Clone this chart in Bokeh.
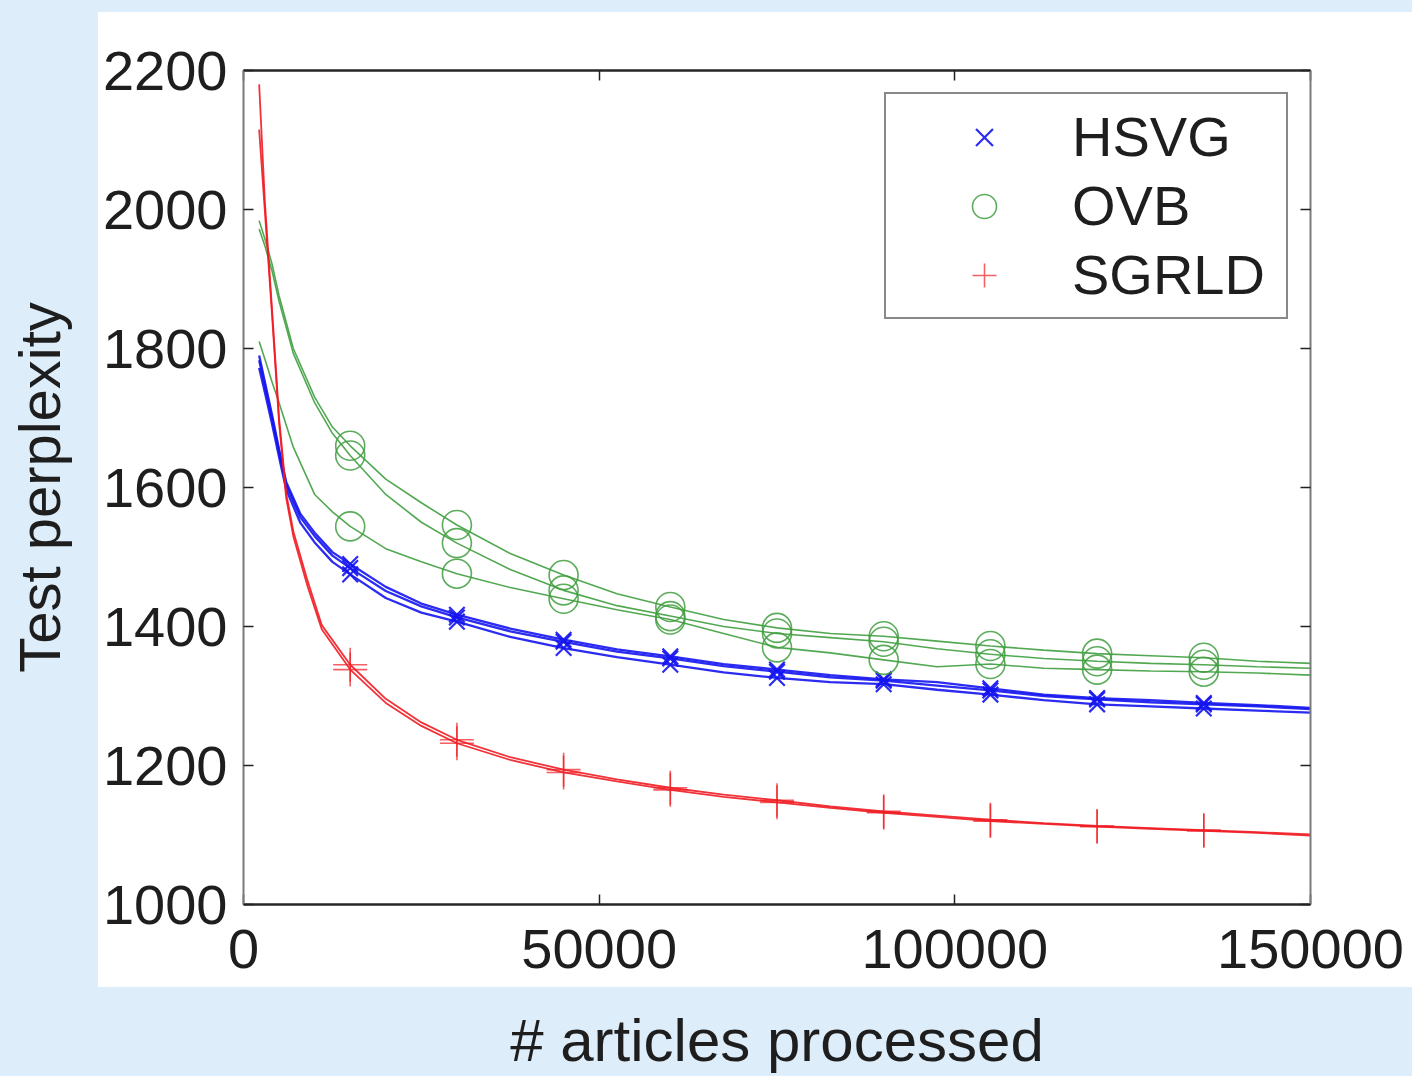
import re
from bokeh.plotting import figure
from bokeh.models import (Range1d, FixedTicker, LinearAxis, BasicTickFormatter,
                          CustomJSTickFormatter, Legend, LegendItem, ColumnDataSource)
from bokeh.embed import file_html
from bokeh.resources import INLINE

# ---------------- data ----------------
X_TICKS = [0, 50000, 100000, 150000]
Y_TICKS = [1000, 1200, 1400, 1600, 1800, 2000, 2200]
MARKER_X = [15000, 30000, 45000, 60000, 75000, 90000, 105000, 120000, 135000]

X_HSVG = [2200, 3000, 4000, 5000, 6000, 8000, 10000, 12500, 15000, 20000, 25000, 30000,
          37500, 45000, 52500, 60000, 67500, 75000, 82500, 90000, 97500, 105000, 112500,
          120000, 127500, 135000, 142500, 150000]
HSVG_1 = [1790, 1752, 1705, 1655, 1608, 1562, 1535, 1507, 1490, 1457, 1433, 1417, 1397, 1381,
          1367, 1357, 1346, 1338, 1330, 1324, 1320, 1311, 1302, 1297, 1294, 1290, 1287, 1283]
HSVG_2 = [1783, 1746, 1700, 1651, 1604, 1557, 1530, 1502, 1484, 1451, 1429, 1413, 1393, 1378,
          1364, 1354, 1343, 1335, 1327, 1322, 1315, 1308, 1300, 1295, 1291, 1288, 1285, 1281]
HSVG_3 = [1772, 1737, 1692, 1644, 1597, 1549, 1521, 1493, 1475, 1441, 1420, 1407, 1385, 1369,
          1356, 1345, 1334, 1326, 1320, 1317, 1309, 1302, 1294, 1288, 1285, 1282, 1279, 1276]

X_OVB = [2200, 3000, 4000, 5000, 7000, 10000, 12500, 15000, 20000, 25000, 30000, 37500,
         45000, 52500, 60000, 67500, 75000, 82500, 90000, 97500, 105000, 112500, 120000,
         127500, 135000, 142500, 150000]
OVB_1 = [1984, 1958, 1922, 1876, 1800, 1730, 1687, 1660, 1612, 1578, 1546, 1505, 1474, 1447,
         1428, 1410, 1398, 1390, 1386, 1379, 1372, 1366, 1361, 1358, 1355, 1350, 1347]
OVB_2 = [1972, 1948, 1912, 1868, 1793, 1722, 1678, 1646, 1590, 1550, 1520, 1482, 1452, 1430,
         1415, 1400, 1390, 1384, 1378, 1368, 1360, 1354, 1350, 1347, 1345, 1342, 1340]
OVB_3 = [1810, 1785, 1752, 1722, 1658, 1590, 1565, 1544, 1512, 1493, 1476, 1456, 1440, 1424,
         1410, 1390, 1370, 1362, 1352, 1342, 1346, 1340, 1338, 1336, 1335, 1333, 1330]

X_SGRLD = [2200, 3000, 4000, 4500, 5000, 6000, 7000, 9000, 11000, 15000, 20000, 25000, 30000,
           37500, 45000, 52500, 60000, 67500, 75000, 82500, 90000, 97500, 105000, 112500,
           120000, 127500, 135000, 142500, 150000]
SGRLD_1 = [2180, 2012, 1858, 1780, 1700, 1592, 1537, 1466, 1402, 1345, 1296, 1262, 1237, 1212,
           1194, 1180, 1168, 1158, 1150, 1141, 1134, 1128, 1122, 1117, 1113, 1110, 1107, 1104, 1101]
SGRLD_2 = [2115, 1998, 1850, 1772, 1693, 1585, 1530, 1458, 1396, 1338, 1290, 1257, 1232, 1208,
           1190, 1177, 1165, 1155, 1147, 1139, 1132, 1126, 1120, 1116, 1112, 1109, 1106, 1103, 1099]

SERIES = [
    ("HSVG", X_HSVG, [HSVG_1, HSVG_2, HSVG_3]),
    ("OVB", X_OVB, [OVB_1, OVB_2, OVB_3]),
    ("SGRLD", X_SGRLD, [SGRLD_1, SGRLD_2]),
]

# ---------------- styles ----------------
FONT = "Liberation Sans"
TXT = "#1e1e1e"
BG = "#ddedf9"
STYLE = {
    "HSVG": dict(line="#1414f0", lw=2.3, marker="x", size=22, mlw=2.2, malpha=0.9),
    "OVB": dict(line="#3f9e3f", lw=1.6, marker="circle", size=29, mlw=1.6, malpha=0.85),
    "SGRLD": dict(line="#f01c22", lw=1.8, marker="cross", size=34, mlw=1.6, malpha=0.7),
}

p = figure(width=1412, height=1076, output_backend="svg", toolbar_location=None,
           x_range=Range1d(0, 150000), y_range=Range1d(1000, 2200),
           min_border_left=243, min_border_right=102, min_border_top=70,
           min_border_bottom=171, x_axis_location=None, y_axis_location=None)
p.border_fill_alpha = 0.0          # slide panel shows through (see page style)
p.background_fill_color = "white"
p.outline_line_color = None
p.xgrid.visible = False
p.ygrid.visible = False

def style_axis(ax, labels, color, width):
    ax.axis_line_color = color
    ax.axis_line_width = width
    ax.major_tick_in = 10
    ax.major_tick_out = 0
    ax.major_tick_line_color = "#222222"
    ax.major_tick_line_width = 1.5
    ax.minor_tick_line_color = None
    ax.major_label_text_font = FONT
    ax.major_label_text_font_size = "56px"
    ax.major_label_text_color = TXT
    ax.axis_label_text_font = FONT
    ax.axis_label_text_font_style = "normal"
    ax.axis_label_text_color = TXT
    if not labels:
        ax.formatter = CustomJSTickFormatter(code="return ''")

xb = LinearAxis(ticker=FixedTicker(ticks=X_TICKS),
                formatter=BasicTickFormatter(use_scientific=False),
                axis_label="# articles processed")
style_axis(xb, True, "#262626", 2.5)
xb.major_label_standoff = 25
xb.axis_label_standoff = 36
xb.axis_label_text_font_size = "60px"
p.add_layout(xb, "below")

xt = LinearAxis(ticker=FixedTicker(ticks=X_TICKS))
style_axis(xt, False, "#262626", 2.5)
xt.major_label_standoff = 0
p.add_layout(xt, "above")

yl = LinearAxis(ticker=FixedTicker(ticks=Y_TICKS), axis_label="Test perplexity")
style_axis(yl, True, "#7a7a7a", 2)
yl.major_label_standoff = 16
yl.axis_label_standoff = 28
yl.axis_label_text_font_size = "58px"
p.add_layout(yl, "left")

yr = LinearAxis(ticker=FixedTicker(ticks=Y_TICKS))
style_axis(yr, False, "#7a7a7a", 2)
yr.major_label_standoff = 0
p.add_layout(yr, "right")

items = []
for name, xs, runs in SERIES:
    st = STYLE[name]
    mx, my = [], []
    for ys in runs:
        p.line(xs, ys, line_color=st["line"], line_width=st["lw"], line_alpha=0.9)
        for xv, yv in zip(xs, ys):
            if xv in MARKER_X:
                mx.append(xv)
                my.append(yv)
    src = ColumnDataSource(dict(x=mx, y=my))
    r = p.scatter("x", "y", source=src, marker=st["marker"], size=st["size"],
                  line_color=st["line"], line_width=st["mlw"], line_alpha=st["malpha"],
                  fill_color=None)
    items.append(LegendItem(label=name, renderers=[r]))

legend = Legend(items=items, location="top_right", margin=22, padding=10, spacing=4,
                glyph_width=176, glyph_height=60, label_height=60, label_width=204,
                label_standoff=-4, label_text_font=FONT, label_text_font_size="56px",
                label_text_color=TXT, border_line_color="#111111", border_line_width=2,
                background_fill_color="white", background_fill_alpha=1.0)
p.add_layout(legend, "center")

html = file_html(p, INLINE)
# slide look: light-blue page with a white panel behind the chart
page_style = ("<style>html{background:%s linear-gradient(#ffffff,#ffffff) no-repeat "
              "98px 12px / 1314px 975px !important;}"
              "body{background:transparent !important;}</style>" % BG)
html = re.sub(r"</head>", page_style + "</head>", html, count=1)
open("out.html", "w").write(html)
